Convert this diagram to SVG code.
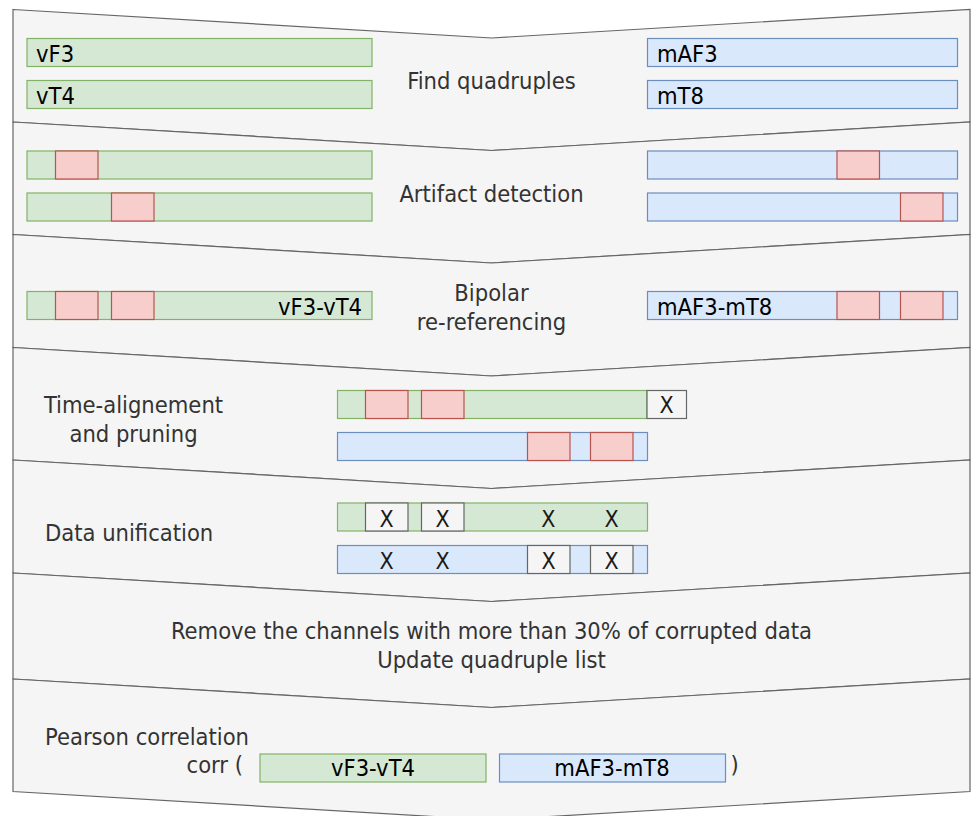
<svg xmlns="http://www.w3.org/2000/svg" width="971" height="816" viewBox="0 0 971 816">
<style>
.panel{fill:#f5f5f5;stroke:#666666;stroke-width:1.2}
.g{fill:#d5e8d4;stroke:#82b366;stroke-width:1.2}
.b{fill:#dae8fc;stroke:#6c8ebf;stroke-width:1.2}
.r{fill:#f8cecc;stroke:#b85450;stroke-width:1.2}
.x{fill:#f5f5f5;stroke:#666666;stroke-width:1.2}
.lbl{font-family:"DejaVu Sans Condensed","DejaVu Sans",sans-serif;font-size:23.5px;fill:#333333}
.bt{font-family:"DejaVu Sans Condensed","DejaVu Sans",sans-serif;font-size:23.5px;fill:#000000}
.xt{font-family:"DejaVu Sans Condensed","DejaVu Sans",sans-serif;font-size:23px;fill:#1a1a1a;text-anchor:middle}
.c{text-anchor:middle}
</style>
<rect width="971" height="816" fill="#ffffff"/>
<g id="step1">
<polygon class="panel" points="13,9.5 491.5,38 970,9.5 970,122 491.5,150.5 13,122"/>
<rect class="g" x="27" y="38.5" width="345" height="28"/>
<rect class="g" x="27" y="80.5" width="345" height="28"/>
<rect class="b" x="647.5" y="38.5" width="310" height="28"/>
<rect class="b" x="647.5" y="80.5" width="310" height="28"/>
<text class="bt" x="36" y="62">vF3</text>
<text class="bt" x="36" y="104">vT4</text>
<text class="bt" x="657" y="62">mAF3</text>
<text class="bt" x="657" y="104">mT8</text>
<text class="lbl c" x="491.5" y="89">Find quadruples</text>
</g>
<g id="step2">
<polygon class="panel" points="13,122 491.5,150.5 970,122 970,234.5 491.5,263 13,234.5"/>
<rect class="g" x="27" y="151" width="345" height="28"/>
<rect class="r" x="55.5" y="151" width="42.5" height="28"/>
<rect class="g" x="27" y="193" width="345" height="28"/>
<rect class="r" x="111.5" y="193" width="42.5" height="28"/>
<rect class="b" x="647.5" y="151" width="310" height="28"/>
<rect class="r" x="837" y="151" width="42.5" height="28"/>
<rect class="b" x="647.5" y="193" width="310" height="28"/>
<rect class="r" x="900.5" y="193" width="42.5" height="28"/>
<text class="lbl c" x="491.5" y="202">Artifact detection</text>
</g>
<g id="step3">
<polygon class="panel" points="13,234.5 491.5,263 970,234.5 970,347.5 491.5,376 13,347.5"/>
<rect class="g" x="27" y="291.5" width="345" height="28"/>
<rect class="r" x="55.5" y="291.5" width="42.5" height="28"/>
<rect class="r" x="111.5" y="291.5" width="42.5" height="28"/>
<text class="bt" x="362" y="315" text-anchor="end">vF3-vT4</text>
<rect class="b" x="647.5" y="291.5" width="310" height="28"/>
<rect class="r" x="837" y="291.5" width="42.5" height="28"/>
<rect class="r" x="900.5" y="291.5" width="42.5" height="28"/>
<text class="bt" x="657" y="314.5">mAF3-mT8</text>
<text class="lbl c" x="491.5" y="301">Bipolar</text>
<text class="lbl c" x="491.5" y="329.5">re-referencing</text>
</g>
<g id="step4">
<polygon class="panel" points="13,347.5 491.5,376 970,347.5 970,460 491.5,488.5 13,460"/>
<rect class="g" x="337.5" y="390.5" width="309.5" height="28"/>
<rect class="r" x="365.5" y="390.5" width="42.5" height="28"/>
<rect class="r" x="421.5" y="390.5" width="42.5" height="28"/>
<rect class="x" x="647" y="390.5" width="39.5" height="28"/>
<text class="xt" x="666.5" y="413">X</text>
<rect class="b" x="337.5" y="432.5" width="310" height="28"/>
<rect class="r" x="527.5" y="432.5" width="42.5" height="28"/>
<rect class="r" x="590.5" y="432.5" width="42.5" height="28"/>
<text class="lbl c" x="133.5" y="413.3">Time-alignement</text>
<text class="lbl c" x="133.5" y="441.7">and pruning</text>
</g>
<g id="step5">
<polygon class="panel" points="13,460 491.5,488.5 970,460 970,573 491.5,601.5 13,573"/>
<rect class="g" x="337.5" y="503" width="310" height="28"/>
<rect class="x" x="365.5" y="503" width="42.5" height="28"/>
<rect class="x" x="421.5" y="503" width="42.5" height="28"/>
<text class="xt" x="386.5" y="526.5">X</text>
<text class="xt" x="442.5" y="526.5">X</text>
<text class="xt" x="548.3" y="526.5">X</text>
<text class="xt" x="611.7" y="526.5">X</text>
<rect class="b" x="337.5" y="545.5" width="310" height="28"/>
<rect class="x" x="527.5" y="545.5" width="42.5" height="28"/>
<rect class="x" x="590.5" y="545.5" width="42.5" height="28"/>
<text class="xt" x="386.5" y="568.5">X</text>
<text class="xt" x="442.5" y="568.5">X</text>
<text class="xt" x="548.5" y="568.5">X</text>
<text class="xt" x="611.7" y="568.5">X</text>
<text class="lbl" x="45" y="541">Data unification</text>
</g>
<g id="step6">
<polygon class="panel" points="13,573 491.5,601.5 970,573 970,679 491.5,707.5 13,679"/>
<text class="lbl c" x="491.5" y="639.3">Remove the channels with more than 30% of corrupted data</text>
<text class="lbl c" x="491.5" y="668.3">Update quadruple list</text>
</g>
<g id="step7">
<polygon class="panel" points="13,679 491.5,707.5 970,679 970,791.5 491.5,820 13,791.5"/>
<text class="lbl" x="45" y="745">Pearson correlation</text>
<text class="lbl" x="243" y="773.3" text-anchor="end">corr (</text>
<rect class="g" x="260" y="754" width="226" height="28"/>
<text class="bt c" x="373" y="776">vF3-vT4</text>
<rect class="b" x="499.5" y="754" width="226" height="28"/>
<text class="bt c" x="612" y="776">mAF3-mT8</text>
<text class="lbl" x="730.5" y="773">)</text>
</g>
<g id="connectors"/>
</svg>
